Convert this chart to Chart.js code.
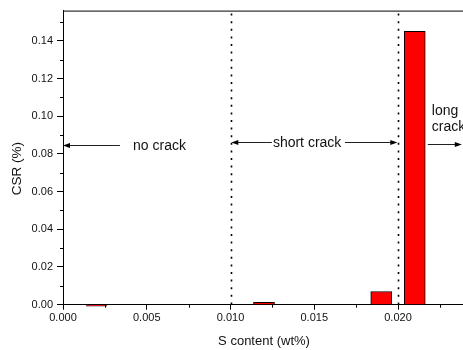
<!DOCTYPE html>
<html><head><meta charset="utf-8">
<script src="https://cdn.jsdelivr.net/npm/chart.js@4/dist/chart.umd.min.js"></script>
<style>html,body{margin:0;padding:0;overflow:hidden;background:#fff;width:463px;height:350px}</style>
</head><body>
<canvas id="c" width="480" height="350" style="width:480px;height:350px;display:block"></canvas>
<script>
// ---- data ----
const sContent = [0.002, 0.012, 0.019, 0.021];          // S content (wt%)
const csrValues = [-0.0008, 0.0012, 0.007, 0.145];       // CSR (%)
const xTickValues = [0, 0.005, 0.010, 0.015, 0.020];
const xMinorTicks = [0.0025, 0.0075, 0.0125, 0.0175, 0.0225];
const yTickValues = [0, 0.02, 0.04, 0.06, 0.08, 0.10, 0.12, 0.14];
const yMinorTicks = [0.01, 0.03, 0.05, 0.07, 0.09, 0.11, 0.13, 0.15];
const xRange = [0, 0.024];
const yRange = [0, 0.156];
const dividerX = [0.010, 0.020];
const xTitle = 'S content (wt%)';
const yTitle = 'CSR (%)';
// arrows: from -> to (head at "to"), at level y (data units)
const arrowFrom = [0.0034, 0.01247, 0.01683, 0.02178];
const arrowTo   = [0.0000, 0.01005, 0.01996, 0.02381];
const arrowY    = [0.0845, 0.0862, 0.0862, 0.0855];
// region labels (left edge x, baseline y in data units)
const labelText = ['no crack', 'short crack', 'long', 'crack'];
const labelX    = [0.00418, 0.01253, 0.02202, 0.02202];
const labelY    = [0.0823, 0.0838, 0.1007, 0.0923];

const FONT = '"Liberation Sans", Arial, sans-serif';

const decor = {
  id: 'decor',
  afterDatasetsDraw(chart) {
    const {ctx, chartArea: a, scales: {x, y}} = chart;
    ctx.save();
    ctx.strokeStyle = '#000'; ctx.lineWidth = 1;
    ctx.beginPath(); ctx.moveTo(a.left, a.top + 0.5); ctx.lineTo(a.right, a.top + 0.5); ctx.stroke();
    ctx.beginPath();
    yMinorTicks.forEach(v => { const py = Math.round(y.getPixelForValue(v)) + 0.5; ctx.moveTo(a.left - 3, py); ctx.lineTo(a.left, py); });
    xMinorTicks.forEach(v => { const px = Math.round(x.getPixelForValue(v)) + 0.5; ctx.moveTo(px, a.bottom); ctx.lineTo(px, a.bottom + 3); });
    ctx.stroke();
    ctx.setLineDash([2, 5.6]); ctx.lineWidth = 1.6;
    dividerX.forEach(v => {
      const px = Math.round(x.getPixelForValue(v)) + 0.5;
      ctx.beginPath(); ctx.moveTo(px, a.top + 3); ctx.lineTo(px, a.bottom); ctx.stroke();
    });
    ctx.setLineDash([]);
    ctx.lineWidth = 1; ctx.strokeStyle = '#222'; ctx.fillStyle = '#000';
    arrowFrom.forEach((f, i) => {
      const x1 = x.getPixelForValue(f), x2 = x.getPixelForValue(arrowTo[i]);
      const py = Math.round(y.getPixelForValue(arrowY[i])) + 0.5;
      const dir = Math.sign(x2 - x1);
      ctx.beginPath(); ctx.moveTo(x1, py); ctx.lineTo(x2 - dir * 4, py); ctx.stroke();
      ctx.beginPath(); ctx.moveTo(x2, py); ctx.lineTo(x2 - dir * 7, py - 2.5); ctx.lineTo(x2 - dir * 7, py + 2.5); ctx.closePath(); ctx.fill();
    });
    ctx.font = '14px ' + FONT; ctx.fillStyle = '#111'; ctx.textBaseline = 'alphabetic'; ctx.textAlign = 'left';
    labelText.forEach((t, i) => ctx.fillText(t, x.getPixelForValue(labelX[i]), y.getPixelForValue(labelY[i])));
    // y axis title (placed a little below the axis centre, as in the original)
    ctx.translate(17, (a.top + a.bottom) / 2 + 11);
    ctx.rotate(-Math.PI / 2);
    ctx.font = '13.5px ' + FONT; ctx.textAlign = 'center'; ctx.textBaseline = 'middle';
    ctx.fillText(yTitle, 0, 0);
    ctx.restore();
  }
};

new Chart(document.getElementById('c'), {
  type: 'bar',
  data: {
    datasets: [{
      data: sContent.map((s, i) => ({x: s, y: csrValues[i]})),
      backgroundColor: '#ff0000', borderColor: '#000', borderWidth: 1,
      barThickness: 21, clip: false
    }]
  },
  options: {
    responsive: false, animation: false,
    layout: {padding: {left: 0, top: 7, right: 15, bottom: 0}},
    plugins: {legend: {display: false}, tooltip: {enabled: false}},
    scales: {
      x: {
        type: 'linear', min: xRange[0], max: xRange[1], offset: false,
        afterBuildTicks: s => { s.ticks = xTickValues.map(v => ({value: v})); },
        afterFit: s => { s.height = 45.3; },
        ticks: {callback: v => v.toFixed(3), font: {family: FONT, size: 11}, color: '#111', padding: 2, maxRotation: 0, autoSkip: false},
        grid: {drawOnChartArea: false, offset: false, tickLength: 5, tickColor: '#000'},
        border: {color: '#000', width: 1},
        title: {display: true, text: xTitle, font: {family: FONT, size: 13}, color: '#111', padding: {top: 1, bottom: 1}}
      },
      y: {
        type: 'linear', min: yRange[0], max: yRange[1],
        afterBuildTicks: s => { s.ticks = yTickValues.map(v => ({value: v})); },
        afterFit: s => { s.width = 63; },
        ticks: {callback: v => v.toFixed(2), font: {family: FONT, size: 11}, color: '#111', padding: 4},
        grid: {drawOnChartArea: false, tickLength: 6, tickColor: '#000'},
        border: {color: '#000', width: 1},
        title: {display: false}
      }
    }
  },
  plugins: [decor]
});
</script>
</body></html>
